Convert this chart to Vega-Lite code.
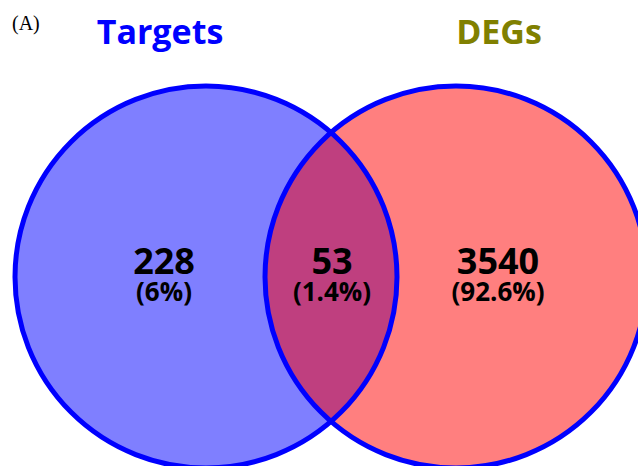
{
  "$schema": "https://vega.github.io/schema/vega-lite/v6.json",
  "width": 638,
  "height": 466,
  "autosize": {"type": "none"},
  "padding": 0,
  "background": "white",
  "config": {"view": {"stroke": null}},
  "resolve": {"scale": {"color": "independent"}},
  "datasets": {
    "sets": [
      {"set": "Targets", "cx": -1, "cy": 0},
      {"set": "DEGs", "cx": 1, "cy": 0}
    ],
    "titles": [
      {"label": "Targets", "tx": -1.368, "ty": 1.864},
      {"label": "DEGs", "tx": 1.344, "ty": 1.864}
    ],
    "counts": [
      {"count": "228", "pct": "(6%)", "tx": -1.336, "ty": 0.024},
      {"count": "53", "pct": "(1.4%)", "tx": 0.008, "ty": 0.024},
      {"count": "3540", "pct": "(92.6%)", "tx": 1.336, "ty": 0.024}
    ],
    "panel": [
      {"label": "(A)", "tx": -2.552, "ty": 2.024}
    ]
  },
  "layer": [
    {
      "data": {"name": "sets"},
      "mark": {"type": "point", "shape": "circle", "filled": true, "fillOpacity": 0.5, "strokeWidth": 0, "size": 145924},
      "encoding": {
        "x": {"field": "cx", "type": "quantitative", "scale": {"domain": [-2.648, 2.456], "nice": false, "zero": false}, "axis": null},
        "y": {"field": "cy", "type": "quantitative", "scale": {"domain": [-1.512, 2.216], "nice": false, "zero": false}, "axis": null},
        "color": {"field": "set", "type": "nominal", "scale": {"domain": ["Targets", "DEGs"], "range": ["#0000FF", "#FF0000"]}, "legend": null}
      }
    },
    {
      "data": {"name": "sets"},
      "mark": {"type": "point", "shape": "circle", "filled": false, "fill": null, "stroke": "#0000FF", "strokeWidth": 5, "opacity": 1, "size": 145924},
      "encoding": {
        "x": {"field": "cx", "type": "quantitative", "scale": {"domain": [-2.648, 2.456], "nice": false, "zero": false}, "axis": null},
        "y": {"field": "cy", "type": "quantitative", "scale": {"domain": [-1.512, 2.216], "nice": false, "zero": false}, "axis": null}
      }
    },
    {
      "data": {"name": "titles"},
      "mark": {"type": "text", "font": "Open Sans", "fontWeight": "bold", "fontSize": 34, "baseline": "alphabetic", "align": "center"},
      "encoding": {
        "x": {"field": "tx", "type": "quantitative"},
        "y": {"field": "ty", "type": "quantitative"},
        "text": {"field": "label"},
        "color": {"field": "label", "type": "nominal", "scale": {"domain": ["Targets", "DEGs"], "range": ["#0000FF", "#808000"]}, "legend": null}
      }
    },
    {
      "data": {"name": "counts"},
      "mark": {"type": "text", "font": "Open Sans", "fontWeight": "bold", "fontSize": 36, "baseline": "alphabetic", "align": "center", "color": "black"},
      "encoding": {
        "x": {"field": "tx", "type": "quantitative"},
        "y": {"field": "ty", "type": "quantitative"},
        "text": {"field": "count"}
      }
    },
    {
      "data": {"name": "counts"},
      "mark": {"type": "text", "font": "Open Sans", "fontWeight": "bold", "fontSize": 26, "baseline": "alphabetic", "align": "center", "color": "black", "dy": 27},
      "encoding": {
        "x": {"field": "tx", "type": "quantitative"},
        "y": {"field": "ty", "type": "quantitative"},
        "text": {"field": "pct"}
      }
    },
    {
      "data": {"name": "panel"},
      "mark": {"type": "text", "font": "Liberation Serif", "fontSize": 20, "baseline": "middle", "align": "left", "color": "black"},
      "encoding": {
        "x": {"field": "tx", "type": "quantitative"},
        "y": {"field": "ty", "type": "quantitative"},
        "text": {"field": "label"}
      }
    }
  ]
}
